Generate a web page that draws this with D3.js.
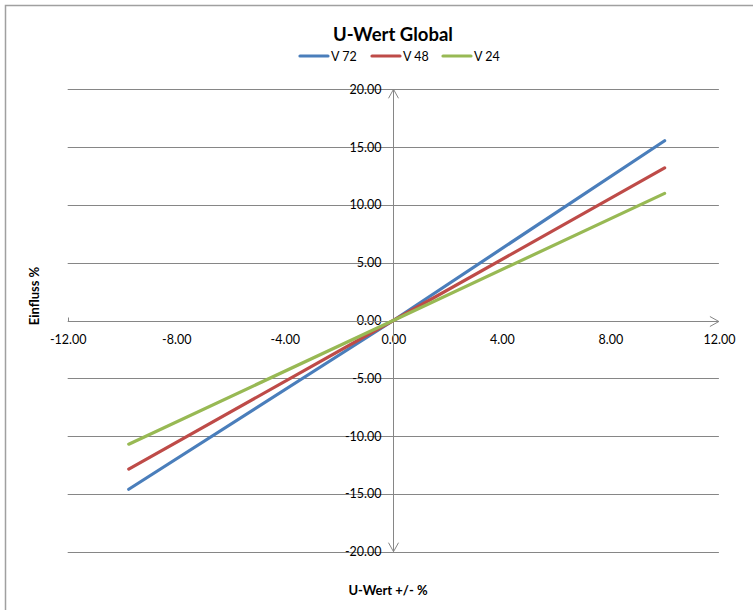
<!DOCTYPE html>
<html><head><meta charset="utf-8">
<script src="https://cdn.jsdelivr.net/npm/d3@7"></script>
<style>body{margin:0;background:#fff}svg{display:block}</style>
</head><body>
<svg id="c" width="753" height="610"></svg>
<script>
const seriesNames = ["V 72", "V 48", "V 24"];
const seriesColors = ["#4a7ebb", "#be4b48", "#98b954"];
const xValues = [-9.75, 0, 10];
const v72 = [-14.6, 0, 15.55];
const v48 = [-12.85, 0, 13.2];
const v24 = [-10.7, 0, 11.0];
const xTicks = [-12, -8, -4, 0, 4, 8, 12];
const yTicks = [-20, -15, -10, -5, 0, 5, 10, 15, 20];
const seriesValues = [v72, v48, v24];

const svg = d3.select("#c");
const font = "Lato, 'Open Sans', sans-serif";
const fmt = d => d3.format(".2f")(d).replace("\u2212", "-");
const x = d3.scaleLinear().domain([-12, 12]).range([67.7, 718.9]);
const y = d3.scaleLinear().domain([-20, 20]).range([551.7, 89.3]);
const axisCol = "#868686";

// outer border
svg.append("path").attr("d","M5.5,610 V5.5 H753").attr("fill","none").attr("stroke","#a0a0a0").attr("stroke-width",1.5);

// gridlines
svg.append("g").selectAll("line").data(yTicks.filter(d=>d!==0)).join("line")
  .attr("x1", x(-12)).attr("x2", x(12))
  .attr("y1", d=>Math.round(y(d))+0.5).attr("y2", d=>Math.round(y(d))+0.5)
  .attr("stroke", axisCol).attr("stroke-width", 1);

// axes via d3 axis
const xAxis = d3.axisBottom(x).tickValues(xTicks).tickSize(0).tickFormat(fmt);
const gx = svg.append("g").attr("transform", `translate(0,${Math.round(y(0))+0.5})`).call(xAxis);
gx.select(".domain").remove();
gx.selectAll("text").attr("y", 9).attr("dy", "1.1em").attr("font-size", 12.5).attr("font-family", font).attr("fill", "#000");

const yAxis = d3.axisLeft(y).tickValues(yTicks).tickSize(0).tickPadding(12).tickFormat(fmt);
const gy = svg.append("g").attr("transform", `translate(${Math.round(x(0))+0.5},0)`).call(yAxis);
gy.select(".domain").remove();
gy.selectAll("text").attr("font-size", 12.5).attr("font-family", font).attr("fill", "#000");

// axis lines with arrows
const y0 = Math.round(y(0))+0.5, x0 = Math.round(x(0))+0.5;
svg.append("line").attr("x1", x(-12)).attr("x2", x(12)).attr("y1", y0).attr("y2", y0).attr("stroke", axisCol);
svg.append("path").attr("d", `M${x(12)-9},${y0-5} L${x(12)},${y0} L${x(12)-9},${y0+5}`).attr("fill","none").attr("stroke",axisCol);
svg.append("line").attr("x1", Math.round(x(-12))+0.5).attr("x2", Math.round(x(-12))+0.5).attr("y1", y0-4).attr("y2", y0).attr("stroke", axisCol);
svg.append("line").attr("x1", x0).attr("x2", x0).attr("y1", y(20)).attr("y2", y(-20)).attr("stroke", axisCol);
svg.append("path").attr("d", `M${x0-5},${y(20)+9} L${x0},${y(20)} L${x0+5},${y(20)+9}`).attr("fill","none").attr("stroke",axisCol);
svg.append("path").attr("d", `M${x0-5},${y(-20)-9} L${x0},${y(-20)} L${x0+5},${y(-20)-9}`).attr("fill","none").attr("stroke",axisCol);

// series
const line = d3.line().x((d,i)=>x(xValues[i])).y(d=>y(d));
svg.append("g").selectAll("path").data(seriesValues).join("path")
  .attr("d", d=>line(d)).attr("fill","none")
  .attr("stroke", (d,i)=>seriesColors[i]).attr("stroke-width", 3.2).attr("stroke-linecap","round");

// title
svg.append("text").attr("x", 393).attr("y", 41).attr("text-anchor","middle")
  .attr("font-family", font).attr("font-weight","bold").attr("font-size", 18.5).text("U-Wert Global");

// legend
const legX = [300, 372, 443];
const lg = svg.append("g").selectAll("g").data(seriesNames).join("g").attr("transform",(d,i)=>`translate(${legX[i]},56)`);
lg.append("line").attr("x1",0).attr("x2",28).attr("stroke",(d,i)=>seriesColors[i]).attr("stroke-width",3.2).attr("stroke-linecap","round");
lg.append("text").attr("x",31).attr("y",4.5).attr("font-family",font).attr("font-size",12.5).text(d=>d);

// axis titles
svg.append("text").attr("x", 388).attr("y", 595).attr("text-anchor","middle")
  .attr("font-family", font).attr("font-weight","bold").attr("font-size", 13).text("U-Wert +/- %");
svg.append("text").attr("transform","translate(39,296) rotate(-90)").attr("text-anchor","middle")
  .attr("font-family", font).attr("font-weight","bold").attr("font-size", 13).text("Einfluss %");
</script>
</body></html>
